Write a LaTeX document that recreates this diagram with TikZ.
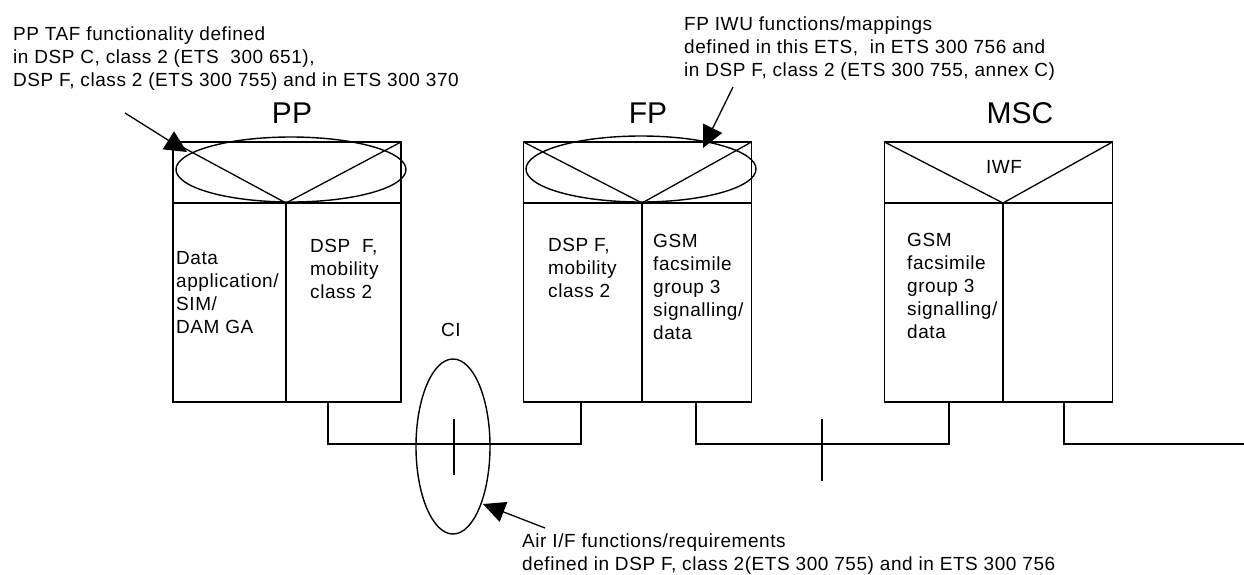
\documentclass[tikz,border=0pt]{standalone}
\usepackage{fontspec}
\setmainfont{Liberation Sans}
\newfontfamily\labfont{Liberation Sans}[LetterSpace=3]
\usetikzlibrary{arrows.meta,calc,shapes.geometric}
\begin{document}
\begin{tikzpicture}[x=1pt,y=-1pt,
  unitbox/.style={draw,line width=1.6pt,minimum width=228pt,minimum height=260pt,inner sep=0pt,outer sep=0pt},
  thin/.style={line width=1.3pt},
  oval/.style={draw,ellipse,line width=1.4pt,inner sep=0pt,outer sep=0pt},
  lab/.style={inner sep=0pt,font=\labfont\fontsize{19}{23}\selectfont,align=left,anchor=base west},
  ttl/.style={inner sep=0pt,font=\fontsize{30}{36}\selectfont,anchor=base},
  arr/.style={line width=1.3pt,-{Triangle[length=22pt,width=21pt]}}]
\useasboundingbox (0,0) rectangle (1244,574);

% boxes
\node[unitbox] (pp) at (287,272) {};
\node[unitbox] (fp) at (637.5,272) {};
\node[unitbox] (ms) at (998.5,272) {};

% apex points of the V's
\coordinate (ppv) at (286,203);
\coordinate (fpv) at (642,203);
\coordinate (msv) at (1003,203);

\foreach \b/\v in {pp/ppv,fp/fpv,ms/msv}{
  \draw[thin] (\b.north west) -- (\v) -- (\b.north east);
  \draw[line width=1.5pt] (\b.west |- \v) -- (\b.east |- \v);
  \draw[thin] (\v) -- (\v |- \b.south);
}

% ellipses on top of PP and FP
\node[oval,minimum width=230pt,minimum height=65pt] (ppE) at (291,169.5) {};
\node[oval,minimum width=230pt,minimum height=66pt] (fpE) at (641,169) {};

% titles
\node[ttl] (ppT) at (292,123) {PP};
\node[ttl] (fpT) at (648,123) {FP};
\node[ttl] (msT) at (1020,123) {MSC};
\node[lab,anchor=base] (iwf) at (1004,173) {IWF};

% box texts (anchor = baseline of last line)
\node[lab] (ppL) at (176,333) {Data\\application/\\SIM/\\DAM GA};
\node[lab] (ppR) at (310,298) {DSP~~F,\\mobility\\class 2};
\node[lab] (fpL) at (548,297) {DSP F,\\mobility\\class 2};
\node[lab] (fpR) at (653,339) {GSM\\facsimile\\group 3\\signalling/\\data};
\node[lab] (msL) at (907,338) {GSM\\facsimile\\group 3\\signalling/\\data};

% legs and bus lines
\coordinate (ppA) at (328,402);
\coordinate (fpA) at (581,402);
\coordinate (fpB) at (696,402);
\coordinate (msA) at (949,402);
\coordinate (msB) at (1064,402);
\coordinate (endR) at (1244,444);
\draw[thin] (ppA) -- (ppA |- endR) -- (fpA |- endR) -- (fpA);
\draw[thin] (fpB) -- (fpB |- endR) -- (msA |- endR) -- (msA);
\draw[thin] (msB) -- (msB |- endR) -- (endR);

% ticks
\coordinate (t1a) at (454,419);
\coordinate (t1b) at (454,475);
\coordinate (t2a) at (822,419);
\coordinate (t2b) at (822,481);
\draw[thin] (t1a) -- (t1b);
\draw[thin] (t2a) -- (t2b);

% CI ellipse
\node[oval,minimum width=74pt,minimum height=175pt] (ci) at (453,446.5) {};
\node[lab,anchor=base] (ciT) at (451,336) {CI};

% annotations
\node[lab] (ppNote) at (13,86) {PP TAF functionality defined\\in DSP C, class 2 (ETS~~300 651),\\DSP F, class 2 (ETS 300 755) and in ETS 300 370};
\node[lab] (fpNote) at (684,76) {FP IWU functions/mappings\\defined in this ETS,~~in ETS 300 756 and\\in DSP F, class 2 (ETS 300 755, annex C)};
\node[lab] (airNote) at (522,570) {Air I/F functions/requirements\\defined in DSP F, class 2(ETS 300 755) and in ETS 300 756};

% arrows
\coordinate (ppTail) at (125,113);
\coordinate (ppTip) at (187,152);
\coordinate (fpTail) at (733,87);
\coordinate (fpTip) at (703,148);
\coordinate (airTail) at (545,528);
\coordinate (airTip) at (483,504);
\draw[arr] (ppTail) -- (ppTip);
\draw[arr] (fpTail) -- (fpTip);
\draw[arr] (airTail) -- (airTip);
\end{tikzpicture}
\end{document}
